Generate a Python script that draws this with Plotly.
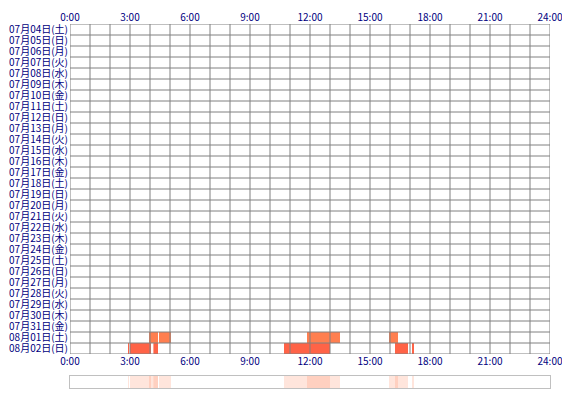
import plotly.graph_objects as go

# rows of the chart (one per day)
days = ["07月04日(土)", "07月05日(日)", "07月06日(月)", "07月07日(火)", "07月08日(水)",
        "07月09日(木)", "07月10日(金)", "07月11日(土)", "07月12日(日)", "07月13日(月)",
        "07月14日(火)", "07月15日(水)", "07月16日(木)", "07月17日(金)", "07月18日(土)",
        "07月19日(日)", "07月20日(月)", "07月21日(火)", "07月22日(水)", "07月23日(木)",
        "07月24日(金)", "07月25日(土)", "07月26日(日)", "07月27日(月)", "07月28日(火)",
        "07月29日(水)", "07月30日(木)", "07月31日(金)", "08月01日(土)", "08月02日(日)"]

hour_ticks = [0, 3, 6, 9, 12, 15, 18, 21, 24]
hour_labels = ["0:00", "3:00", "6:00", "9:00", "12:00", "15:00", "18:00", "21:00", "24:00"]

# activity sessions (hours of day)
session_day = ["08月01日(土)", "08月01日(土)", "08月01日(土)", "08月01日(土)",
               "08月02日(日)", "08月02日(日)", "08月02日(日)", "08月02日(日)",
               "08月02日(日)", "08月02日(日)"]
session_start = [3.95, 4.45, 11.85, 15.95, 2.90, 3.00, 4.17, 10.70, 16.25, 17.10]
session_end = [4.40, 5.05, 13.50, 16.40, 2.95, 4.05, 4.40, 13.00, 16.90, 17.20]

day_colors = {"08月01日(土)": "#FF7F50", "08月02日(日)": "#FF6347"}
GRID = "#808080"
NAVY = "#000080"
FONT = "Noto Sans CJK JP"

durations = [e - s for s, e in zip(session_start, session_end)]

fig = go.Figure()

# main day-by-day bars
fig.add_trace(go.Bar(
    y=session_day, x=durations, base=session_start, orientation="h",
    width=1, marker=dict(color=[day_colors[d] for d in session_day], line_width=0),
    xaxis="x", yaxis="y", showlegend=False, hoverinfo="skip"))

# summary strip at the bottom
fig.add_trace(go.Bar(
    y=["all"] * len(session_start), x=durations, base=session_start, orientation="h",
    width=1, marker=dict(color="rgba(255,127,80,0.2)", line_width=0),
    xaxis="x2", yaxis="y2", showlegend=False, hoverinfo="skip"))

# dummy trace so the bottom tick axis is drawn
fig.add_trace(go.Scatter(x=[0, 24], y=[days[0], days[0]], xaxis="x3", yaxis="y",
                         mode="markers", marker=dict(opacity=0), showlegend=False,
                         hoverinfo="skip"))

# grid drawn above the bars
for h in range(25):
    fig.add_shape(type="line", x0=h, x1=h, y0=-0.5, y1=len(days) - 0.5,
                  xref="x", yref="y", layer="above", line=dict(color=GRID, width=1))
for i in range(len(days) + 1):
    fig.add_shape(type="line", x0=0, x1=24, y0=i - 0.5, y1=i - 0.5,
                  xref="x", yref="y", layer="above", line=dict(color=GRID, width=1))

tickfont = dict(family=FONT, size=10, color=NAVY)

# the page adds an 8px body margin, so the figure is shifted by that amount
fig.update_layout(
    width=570, height=400,
    margin=dict(l=62, r=28, t=16, b=20),
    paper_bgcolor="white", plot_bgcolor="white",
    barmode="overlay",
    xaxis=dict(domain=[0, 1], range=[0, 24], side="top", anchor="y",
               tickmode="array", tickvals=hour_ticks, ticktext=hour_labels,
               tickfont=tickfont, automargin=False,
               showgrid=False, zeroline=False, showline=False, ticks=""),
    xaxis3=dict(range=[0, 24], side="bottom", overlaying="x", anchor="y",
                tickmode="array", tickvals=hour_ticks, ticktext=hour_labels,
                tickfont=tickfont, automargin=False,
                showgrid=False, zeroline=False, showline=False, ticks=""),
    yaxis=dict(domain=[34 / 364, 1], anchor="x", type="category",
               categoryorder="array", categoryarray=days,
               tickmode="array", tickvals=days, ticktext=days,
               range=[len(days) - 0.5, -0.5], tickfont=tickfont, automargin=False,
               showgrid=False, zeroline=False, ticks="", ticklabelstandoff=1),
    xaxis2=dict(domain=[0, 1], range=[0, 24], anchor="y2", showticklabels=False,
                showgrid=False, zeroline=False, ticks="", automargin=False,
                showline=True, mirror=True, linecolor="#C0C0C0", linewidth=1),
    yaxis2=dict(domain=[0, 12 / 364], anchor="x2", range=[-0.5, 0.5],
                showticklabels=False, showgrid=False, zeroline=False, ticks="",
                automargin=False,
                showline=True, mirror=True, linecolor="#C0C0C0", linewidth=1),
)

fig.write_html("out.html")
